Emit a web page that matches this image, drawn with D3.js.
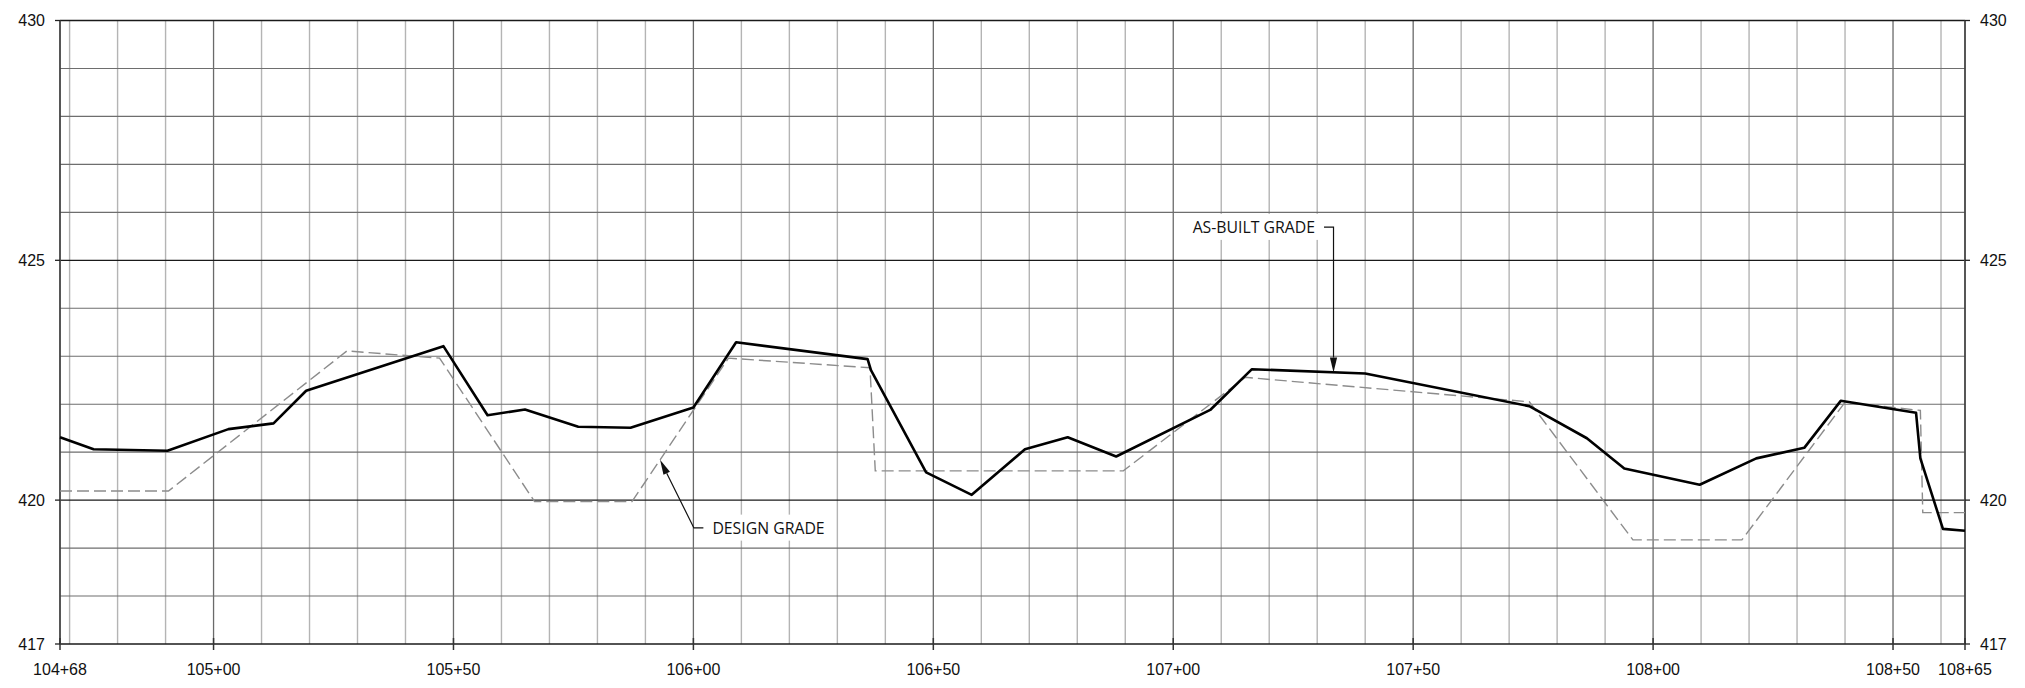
<!DOCTYPE html>
<html><head><meta charset="utf-8">
<script src="https://cdn.jsdelivr.net/npm/d3@7"></script>
<style>
html,body{margin:0;padding:0;background:#fff;}
svg{display:block;}
</style></head>
<body>
<svg id="chart" width="2025" height="688"></svg>
<script>
// ---- data ----
const asBuiltStations = [10468, 10475, 10490.4, 10503.1, 10512.5, 10519.3, 10547.9, 10557.1, 10564.9, 10576, 10586.9, 10600, 10608.9, 10636.3, 10637, 10648.5, 10658, 10669.1, 10678, 10688.1, 10707.7, 10716.4, 10740, 10774.2, 10786.2, 10794, 10809.7, 10821.5, 10831.5, 10839.1, 10854.8, 10855.7, 10860.4, 10865];
const asBuiltElev = [421.31, 421.06, 421.03, 421.48, 421.60, 422.28, 423.21, 421.77, 421.89, 421.53, 421.51, 421.93, 423.29, 422.94, 422.71, 420.58, 420.11, 421.06, 421.31, 420.91, 421.88, 422.73, 422.64, 421.96, 421.29, 420.66, 420.32, 420.87, 421.09, 422.07, 421.82, 420.87, 419.40, 419.36];
const designStations = [10468, 10490.6, 10527.8, 10547.1, 10566.9, 10587.2, 10607.3, 10636.8, 10637.9, 10689.6, 10715, 10774.2, 10795.8, 10818.5, 10840, 10855.7, 10856.2, 10865];
const designElev = [420.19, 420.19, 423.11, 422.96, 419.97, 419.97, 422.96, 422.76, 420.61, 420.61, 422.56, 422.05, 419.17, 419.17, 422.04, 421.87, 419.74, 419.74];
const xTickStations = [10468, 10500, 10550, 10600, 10650, 10700, 10750, 10800, 10850, 10865];
const xTickLabels = ["104+68", "105+00", "105+50", "106+00", "106+50", "107+00", "107+50", "108+00", "108+50", "108+65"];
const yTickValues = [417, 420, 425, 430];
const yTickLabels = ["417", "420", "425", "430"];
const annotations = [
  {text: "AS-BUILT GRADE", tipStation: 10733.4, tipElev: 422.66, elbowStation: 10733.4, elbowElev: 425.69, side: "left"},
  {text: "DESIGN GRADE", tipStation: 10593.05, tipElev: 420.84, elbowStation: 10600.1, elbowElev: 419.42, side: "right"}
];

// ---- layout ----
const W = 2025, H = 688;
const m = {left: 60, right: 60, top: 20.5, bottom: 44};
const svg = d3.select("#chart");
const x = d3.scaleLinear().domain([10468, 10865]).range([m.left, W - m.right]);
const y = d3.scaleLinear().domain([417, 430]).range([H - m.bottom, m.top]);

const g = svg.append("g");

// vertical grid
const vMinor = d3.range(10470, 10865, 10);
g.selectAll("line.vmin").data(vMinor.filter(s => s % 50 !== 0)).join("line")
  .attr("x1", d => x(d)).attr("x2", d => x(d)).attr("y1", y(430)).attr("y2", y(417))
  .attr("stroke", "#b4b4b4").attr("stroke-width", 1.4);
g.selectAll("line.vmaj").data(vMinor.filter(s => s % 50 === 0)).join("line")
  .attr("x1", d => x(d)).attr("x2", d => x(d)).attr("y1", y(430)).attr("y2", y(417))
  .attr("stroke", "#6a6a6a").attr("stroke-width", 1.3);

// horizontal grid
const hLines = d3.range(418, 430, 1);
g.selectAll("line.hmin").data(hLines.filter(v => v % 5 !== 0)).join("line")
  .attr("x1", x(10468)).attr("x2", x(10865)).attr("y1", d => y(d)).attr("y2", d => y(d))
  .attr("stroke", "#6e6e6e").attr("stroke-width", 1.1);
g.selectAll("line.hmaj").data([417, 420, 425, 430]).join("line")
  .attr("x1", x(10468)).attr("x2", x(10865)).attr("y1", d => y(d)).attr("y2", d => y(d))
  .attr("stroke", "#1a1a1a").attr("stroke-width", 1.3);

// frame verticals
g.selectAll("line.frame").data([10468, 10865]).join("line")
  .attr("x1", d => x(d)).attr("x2", d => x(d)).attr("y1", y(430)).attr("y2", y(417))
  .attr("stroke", "#444").attr("stroke-width", 1.8);

// ticks
g.selectAll("line.xt").data(xTickStations).join("line")
  .attr("x1", d => x(d)).attr("x2", d => x(d)).attr("y1", y(417) - 6).attr("y2", y(417) + 6)
  .attr("stroke", "#333").attr("stroke-width", 1.5);
g.selectAll("line.ytl").data(yTickValues).join("line")
  .attr("x1", m.left - 5).attr("x2", m.left).attr("y1", d => y(d)).attr("y2", d => y(d))
  .attr("stroke", "#222").attr("stroke-width", 1.3);
g.selectAll("line.ytr").data(yTickValues).join("line")
  .attr("x1", W - m.right).attr("x2", W - m.right + 5).attr("y1", d => y(d)).attr("y2", d => y(d))
  .attr("stroke", "#222").attr("stroke-width", 1.3);

const font = "'Liberation Sans', Arial, sans-serif";
g.selectAll("text.xl").data(xTickStations).join("text")
  .attr("x", d => x(d)).attr("y", y(417) + 31)
  .attr("text-anchor", "middle").attr("font-family", font).attr("font-size", 16).attr("fill", "#111")
  .text((d, i) => xTickLabels[i]);
g.selectAll("text.yl").data(yTickValues).join("text")
  .attr("x", m.left - 15).attr("y", d => y(d)).attr("dy", "0.35em")
  .attr("text-anchor", "end").attr("font-family", font).attr("font-size", 16).attr("fill", "#111")
  .text((d, i) => yTickLabels[i]);
g.selectAll("text.yr").data(yTickValues).join("text")
  .attr("x", W - m.right + 15).attr("y", d => y(d)).attr("dy", "0.35em")
  .attr("text-anchor", "start").attr("font-family", font).attr("font-size", 16).attr("fill", "#111")
  .text((d, i) => yTickLabels[i]);

// lines
const line = d3.line().x(d => x(d[0])).y(d => y(d[1]));
const designPts = designStations.map((s, i) => [s, designElev[i]]);
const asBuiltPts = asBuiltStations.map((s, i) => [s, asBuiltElev[i]]);
g.append("path").attr("d", line(designPts)).attr("fill", "none")
  .attr("stroke", "#8c8c8c").attr("stroke-width", 1.4).attr("stroke-dasharray", "12,5");
g.append("path").attr("d", line(asBuiltPts)).attr("fill", "none")
  .attr("stroke", "#000").attr("stroke-width", 2.6).attr("stroke-linejoin", "round");

// annotations
const afont = "'Open Sans', 'Noto Sans', sans-serif";
annotations.forEach(a => {
  const tx = x(a.tipStation), ty = y(a.tipElev);
  const ex = x(a.elbowStation), ey = y(a.elbowElev);
  const hx = a.side === "left" ? ex - 9.5 : ex + 9.5;
  const txt = g.append("text")
    .attr("x", a.side === "left" ? hx - 9 : hx + 9).attr("y", ey).attr("dy", "0.36em")
    .attr("text-anchor", a.side === "left" ? "end" : "start")
    .attr("font-family", afont).attr("font-size", 15.8).attr("fill", "#111").text(a.text);
  const bb = txt.node().getBBox();
  g.insert("rect", () => txt.node())
    .attr("x", bb.x - 4).attr("y", bb.y - 2).attr("width", bb.width + 8).attr("height", bb.height + 4)
    .attr("fill", "#fff");
  // leader
  const ang = Math.atan2(ty - ey, tx - ex);
  const L = 15, hw = 3.6;
  const bx = tx - L * Math.cos(ang), by = ty - L * Math.sin(ang);
  g.append("path").attr("d", `M${hx},${ey}L${ex},${ey}L${bx},${by}`)
    .attr("fill", "none").attr("stroke", "#111").attr("stroke-width", 1.2);
  const px = -Math.sin(ang) * hw, py = Math.cos(ang) * hw;
  g.append("path").attr("d", `M${tx},${ty}L${bx + px},${by + py}L${bx - px},${by - py}Z`)
    .attr("fill", "#111");
});
</script>
</body></html>
